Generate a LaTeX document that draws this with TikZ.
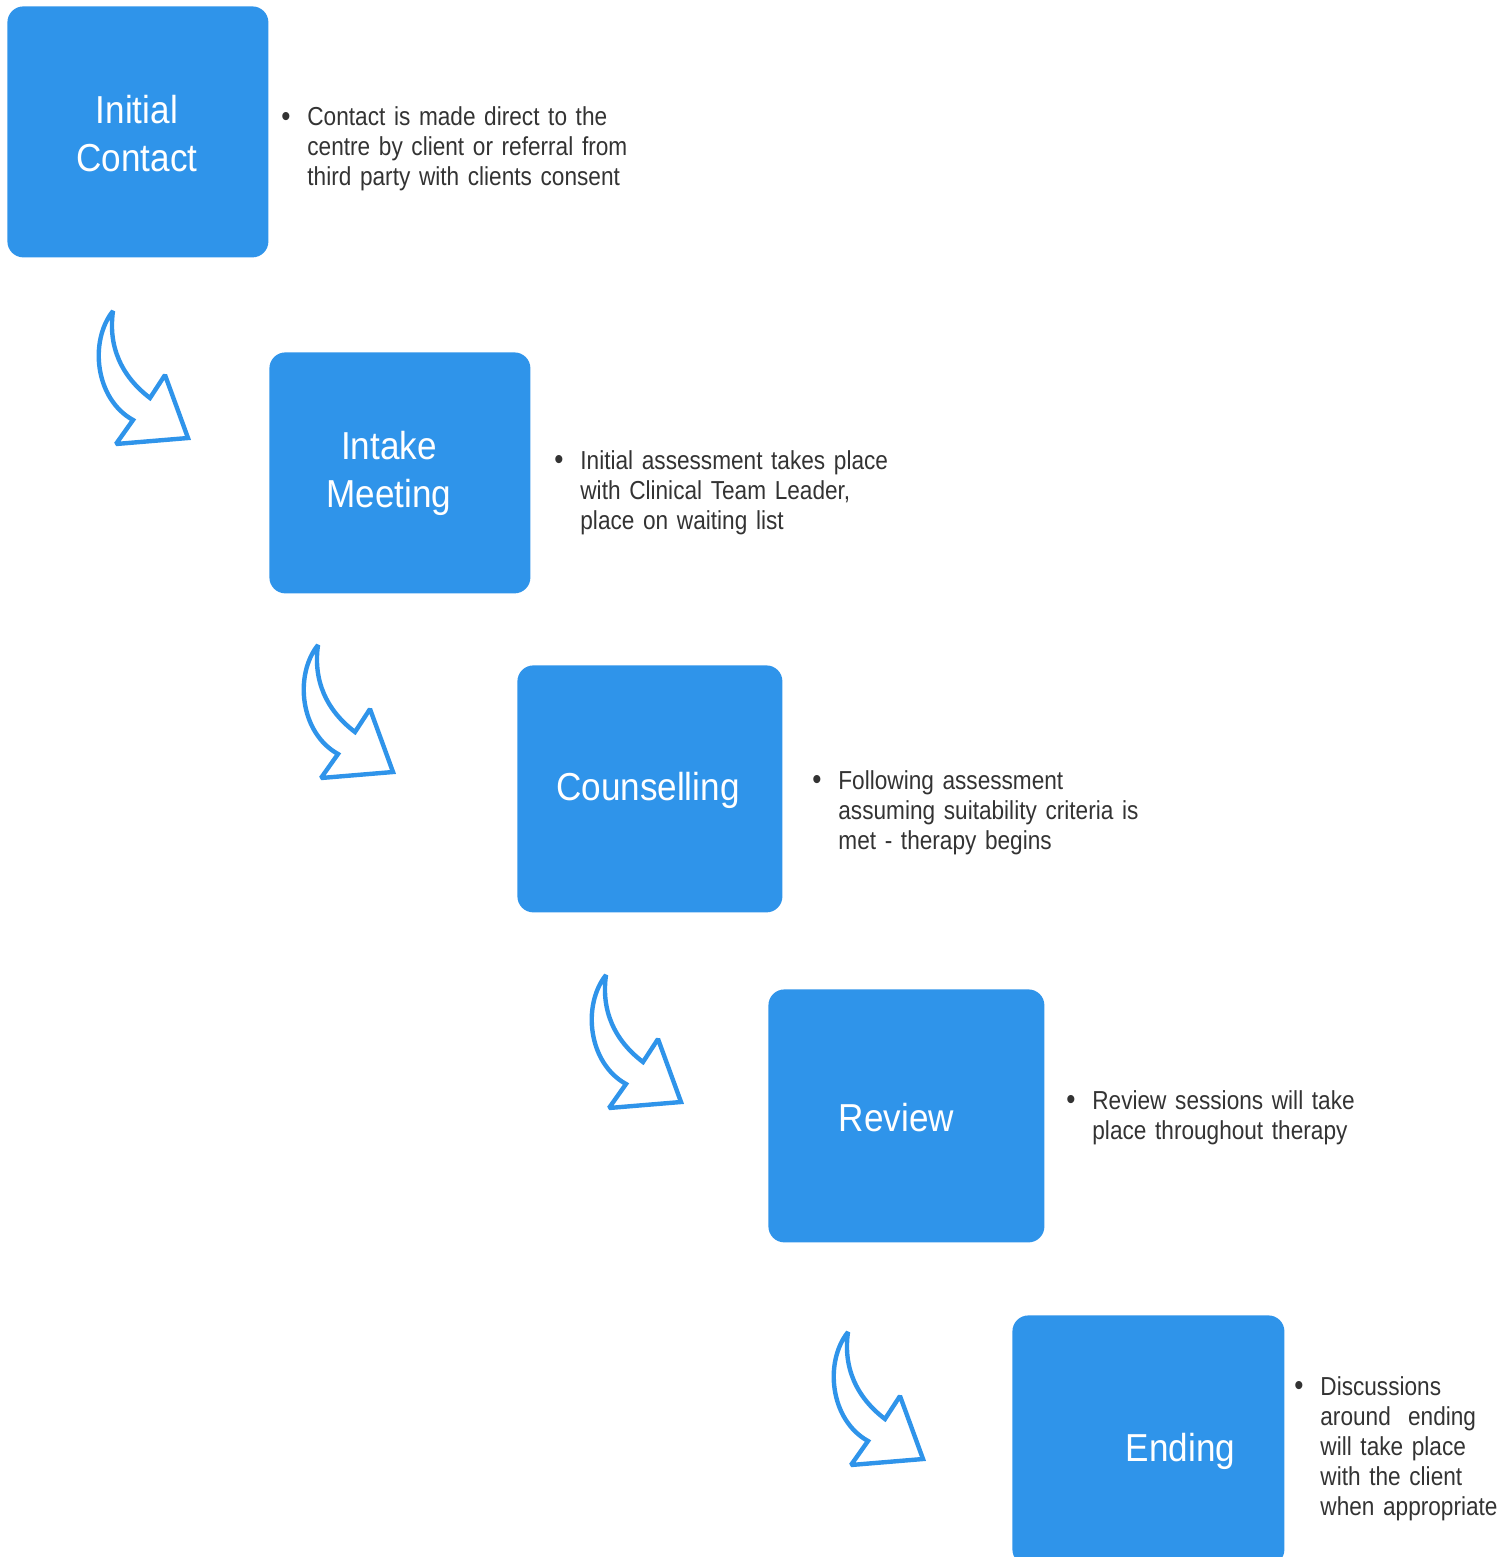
\documentclass[tikz,border=0pt]{standalone}
\usepackage{fontspec}
\setmainfont{Liberation Sans}[FakeStretch=0.9]
\newfontfamily\notefont{Liberation Sans}[FakeStretch=0.87]
\usetikzlibrary{positioning}
\definecolor{stageblue}{RGB}{47,148,234}
\definecolor{notegray}{RGB}{51,51,51}
\newcommand{\bul}{\llap{\raisebox{-0.3pt}{\fontsize{15}{15}\selectfont•}\hspace{8.5pt}}}
\tikzset{
  bendarrow/.pic = {
    \draw[stageblue, line width=2.2pt, line join=miter, miter limit=2]
      (0,0) .. controls (-5,35) and (8,65) .. (37,87) -- (52,64) -- (75,127)
      -- (3,133) -- (20,109) .. controls (-18,88) and (-24,30) .. (0,0) -- cycle;
  }
}
\begin{document}
\begin{tikzpicture}[x=0.5pt, y=-0.5pt,
    stage/.style = {fill=stageblue, rounded corners=8pt, anchor=north west, inner sep=0pt},
    title/.style = {text=white, font=\fontsize{19.5}{24}\selectfont, align=center},
    note/.style = {text=notegray, font=\notefont\fontsize{13}{15}\selectfont, anchor=base west,
                   text width=220pt, align=left, inner sep=0pt}]
        \useasboundingbox (0,0) rectangle (1503,1557);
        \clip (0,0) rectangle (1503,1557);
        % boxes
        \node[stage, minimum width=130.5pt, minimum height=125.5pt] (contact) at (7,6) {};
        \node[stage, minimum width=130.5pt, minimum height=120.5pt] (intake) at (269,352) {};
        \node[stage, minimum width=132.5pt, minimum height=123.5pt] (counsel) at (517,665) {};
        \node[stage, minimum width=138pt, minimum height=126.5pt] (review) at (768,989) {};
        \node[stage, minimum width=136pt, minimum height=125pt] (ending) at (1012,1315) {};
        %
        \node[title] (contacttxt) at ([xshift=-0.5pt, yshift=-1pt]contact.center) {Initial\\Contact};
        \node[title] (intaketxt) at ([xshift=-5.5pt, yshift=-0.5pt]intake.center) {Intake\\Meeting};
        \node[title] (counseltxt) at ([xshift=-1pt, yshift=-1pt]counsel.center) {Counselling};
        \node[title] (reviewtxt) at ([xshift=-5pt, yshift=-1pt]review.center) {Review};
        \node[title] (endingtxt) at ([xshift=16pt, yshift=-5.5pt]ending.center) {Ending};
        % notes
        \node[note] (contactnote) at (307,126) {\bul Contact is made direct to the\\centre by client or referral from\\third party with clients consent};
        \node[note] (intakenote) at (580,469) {\bul Initial assessment takes place\\with Clinical Team Leader,\\place on waiting list};
        \node[note] (counselnote) at (838,789) {\bul Following assessment\\assuming suitability criteria is\\met - therapy begins};
        \node[note] (reviewnote) at (1092,1109) {\bul Review sessions will take\\place throughout therapy};
        \node[note] (endingnote) at (1320,1395) {\bul Discussions\\around\ \ ending\\will take place\\with the client\\when appropriate};
        % arrows
        \pic at (113,311) {bendarrow};
        \pic at (318,645) {bendarrow};
        \pic at (606,975) {bendarrow};
        \pic at (848,1332) {bendarrow};
      \end{tikzpicture}
\end{document}
